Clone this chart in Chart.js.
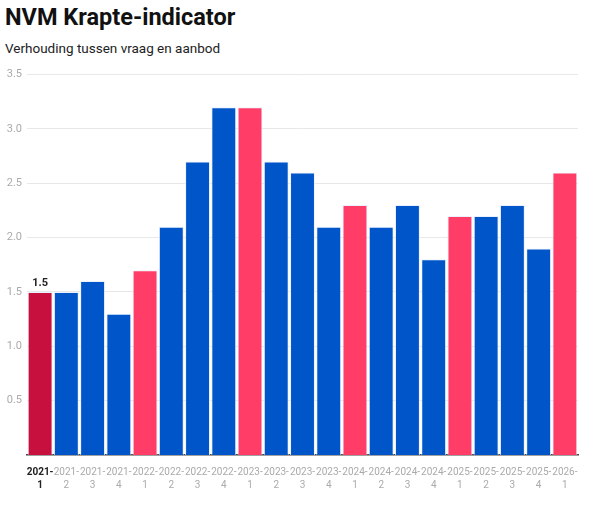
<!DOCTYPE html>
<html>
<head>
<meta charset="utf-8">
<script src="https://cdn.jsdelivr.net/npm/chart.js@4/dist/chart.umd.min.js"></script>
<style>
  body { margin: 0; background: #fff; font-family: Roboto, "Noto Sans", sans-serif; }
  #title { position: absolute; left: 5px; top: 3px; font-size: 23.5px; font-weight: bold; color: #111; }
  #subtitle { position: absolute; left: 5px; top: 40px; font-size: 13.5px; color: #222; }
  #wrap { position: absolute; left: 0; top: 63px; width: 600px; height: 442px; }
</style>
</head>
<body>
<div id="title">NVM Krapte-indicator</div>
<div id="subtitle">Verhouding tussen vraag en aanbod</div>
<div id="wrap"><canvas id="chart"></canvas></div>
<script>
const quarters = ['2021-1','2021-2','2021-3','2021-4','2022-1','2022-2','2022-3','2022-4','2023-1','2023-2','2023-3','2023-4',
  '2024-1','2024-2','2024-3','2024-4','2025-1','2025-2','2025-3','2025-4','2026-1'];
const values = [1.5,1.5,1.6,1.3,1.7,2.1,2.7,3.2,3.2,2.7,2.6,2.1,2.3,2.1,2.3,1.8,2.2,2.2,2.3,1.9,2.6];
const yTicks = [0.5,1.0,1.5,2.0,2.5,3.0,3.5];

const colors = quarters.map((q, i) => {
  if (i === 0) return '#c8103f';
  return q.endsWith('-1') ? '#ff3d66' : '#0056c9';
});

// waarde boven de eerste staaf
const firstLabel = {
  id: 'firstLabel',
  afterDatasetsDraw(chart) {
    const bar = chart.getDatasetMeta(0).data[0];
    const ctx = chart.ctx;
    ctx.save();
    ctx.font = 'bold 11px Roboto';
    ctx.fillStyle = '#222';
    ctx.textAlign = 'center';
    ctx.textBaseline = 'bottom';
    ctx.fillText(values[0].toFixed(1), bar.x, bar.y - 3);
    ctx.restore();
  }
};

new Chart(document.getElementById('chart'), {
  type: 'bar',
  data: {
    labels: quarters.map(q => [q.slice(0, 5), q.slice(5)]),
    datasets: [{
      data: values,
      backgroundColor: colors,
      borderColor: 'rgba(230,238,255,0.8)',
      borderWidth: 1,
      barPercentage: 1,
      categoryPercentage: 0.95
    }]
  },
  options: {
    responsive: true,
    maintainAspectRatio: false,
    animation: false,
    layout: { padding: { left: 0, right: 22, top: 8, bottom: 10 } },
    scales: {
      x: {
        grid: { display: false },
        border: { display: true, color: '#444', width: 1.5 },
        ticks: {
          maxRotation: 0,
          autoSkip: false,
          padding: 3,
          color: ctx => ctx.index === 0 ? '#222' : '#aaa',
          font: ctx => ({ family: 'Roboto', size: 10, weight: ctx.index === 0 ? 'bold' : 'normal', lineHeight: 1.3 })
        }
      },
      y: {
        min: 0,
        max: 3.5,
        afterBuildTicks: axis => { axis.ticks = yTicks.map(v => ({ value: v })); },
        afterFit: axis => { axis.width = 27; },
        grid: { color: '#e8e8e8', drawTicks: false },
        border: { display: false },
        ticks: {
          padding: 5,
          color: '#aaa',
          font: { family: 'Roboto', size: 11 },
          callback: v => v.toFixed(1)
        }
      }
    },
    plugins: {
      legend: { display: false },
      tooltip: { enabled: false }
    }
  },
  plugins: [firstLabel]
});
</script>
</body>
</html>
